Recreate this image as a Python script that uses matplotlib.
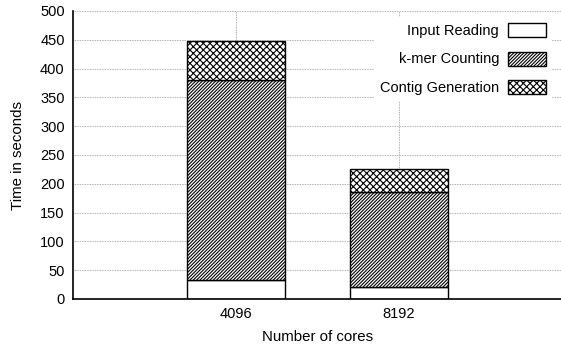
import matplotlib
matplotlib.use("Agg")
import matplotlib.pyplot as plt
from matplotlib.patches import Patch

plt.rcParams['font.family'] = ['Liberation Sans', 'DejaVu Sans']
plt.rcParams['font.size'] = 10.5
plt.rcParams['hatch.linewidth'] = 0.8

cores = ["4096", "8192"]
input_reading = [33, 20]
kmer_counting = [347, 166]
contig_generation = [68, 40]

fig = plt.figure(figsize=(5.61, 3.45), dpi=100)
ax = fig.add_axes([73 / 561, 46 / 345, 489 / 561, 288 / 345])

x = list(range(len(cores)))
w = 0.6
bottom2 = [a + b for a, b in zip(input_reading, kmer_counting)]
ax.bar(x, input_reading, w, color="white", edgecolor="black", linewidth=1.0, zorder=3)
ax.bar(x, kmer_counting, w, bottom=input_reading, color="white", edgecolor="black",
       hatch="/" * 10, linewidth=1.0, zorder=3)
ax.bar(x, contig_generation, w, bottom=bottom2, color="white", edgecolor="black",
       hatch="xxxxx", linewidth=1.0, zorder=3)

ax.set_xlim(-1, 2)
ax.set_ylim(0, 500)
ax.set_xticks(x)
ax.set_xticklabels(cores)
ax.set_yticks(range(0, 501, 50))
ax.tick_params(direction="in", length=0, pad=6)
ax.grid(True, linestyle=(0, (1, 1)), color="#999999", linewidth=0.6, zorder=0)
for s in ["top", "right"]:
    ax.spines[s].set_visible(False)
for s in ["left", "bottom"]:
    ax.spines[s].set_linewidth(1.2)
    ax.spines[s].set_zorder(4)

ax.set_ylabel("Time in seconds", fontsize=10.8, labelpad=11)
ax.set_xlabel("Number of cores", fontsize=10.8, labelpad=6)

handles = [
    Patch(facecolor="white", edgecolor="black", linewidth=1.0, label="Input Reading"),
    Patch(facecolor="white", edgecolor="black", hatch="/" * 10, linewidth=1.0, label="k-mer Counting"),
    Patch(facecolor="white", edgecolor="black", hatch="xxxxx", linewidth=1.0, label="Contig Generation"),
]
leg = ax.legend(handles=handles, loc="upper right", bbox_to_anchor=(559 / 561, 1 - 10 / 345),
                bbox_transform=fig.transFigure, markerfirst=False, frameon=True,
                fancybox=False, framealpha=1, facecolor="white", edgecolor="none",
                handlelength=2.6, handleheight=1.1, labelspacing=0.92, handletextpad=0.6,
                borderpad=0.4, fontsize=10.5)
for t in leg.get_texts():
    t.set_ha("right")
leg.set_zorder(5)

fig.savefig("out.png", dpi=100)
